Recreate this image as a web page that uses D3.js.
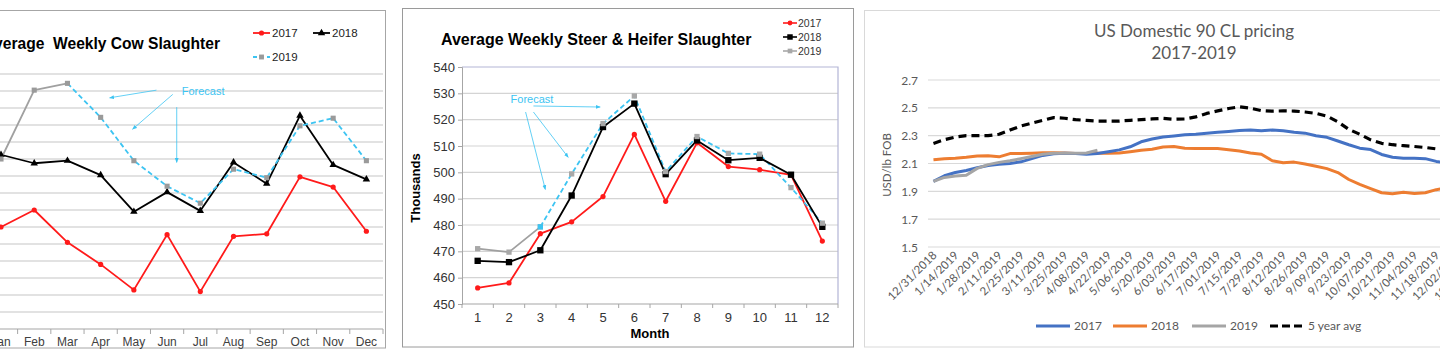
<!DOCTYPE html>
<html>
<head>
<meta charset="utf-8">
<script src="https://cdn.jsdelivr.net/npm/d3@7/dist/d3.min.js"></script>
<style>
  body { margin: 0; background: #fff; }
  svg { display: block; }
</style>
</head>
<body>
<div id="chart"></div>
<script>
// ---------- data ----------
const monthNames = ['Jan', 'Feb', 'Mar', 'Apr', 'May', 'Jun', 'Jul', 'Aug', 'Sep', 'Oct', 'Nov', 'Dec'];
const monthNums = [1, 2, 3, 4, 5, 6, 7, 8, 9, 10, 11, 12];

// Average weekly cow slaughter (thousand head)
const cow2017 = [62.0, 64.0, 60.2, 57.6, 54.6, 61.1, 54.4, 60.9, 61.2, 67.9, 66.7, 61.5];
const cow2018 = [70.5, 69.5, 69.8, 68.1, 63.8, 66.1, 63.9, 69.6, 67.1, 75.1, 69.3, 67.6];
const cow2019 = [70.0, 78.1, 78.9, null, null, null, null, null, null, null, null, null];
const cow2019Forecast = [null, null, 78.9, 74.9, 69.8, 66.8, 64.8, 68.8, 67.8, 73.9, 74.8, 69.8];

// Average weekly steer & heifer slaughter (thousands)
const steer2017 = [456.1, 458.0, 476.7, 481.2, 490.8, 514.4, 489.0, 511.2, 502.2, 501.0, 499.0, 473.9];
const steer2018 = [466.4, 465.9, 470.4, 491.2, 517.2, 526.1, 499.3, 512.1, 504.6, 505.5, 499.1, 479.3];
const steer2019 = [471.0, 469.7, 479.3, null, null, null, null, null, null, null, null, null];
const steer2019Forecast = [null, null, 479.3, 499.4, 518.5, 529.0, 500.3, 513.6, 507.2, 506.9, 494.2, 480.7];
const steerTicks = [450, 460, 470, 480, 490, 500, 510, 520, 530, 540];

// US domestic 90 CL pricing, weekly (USD/lb FOB)
const weeks = ['12/31/2018', '1/07/2019', '1/14/2019', '1/21/2019', '1/28/2019', '2/04/2019', '2/11/2019',
  '2/18/2019', '2/25/2019', '3/04/2019', '3/11/2019', '3/18/2019', '3/25/2019', '4/01/2019', '4/08/2019',
  '4/15/2019', '4/22/2019', '4/29/2019', '5/06/2019', '5/13/2019', '5/20/2019', '5/27/2019', '6/03/2019',
  '6/10/2019', '6/17/2019', '6/24/2019', '7/01/2019', '7/08/2019', '7/15/2019', '7/22/2019', '7/29/2019',
  '8/05/2019', '8/12/2019', '8/19/2019', '8/26/2019', '9/02/2019', '9/09/2019', '9/16/2019', '9/23/2019',
  '9/30/2019', '10/07/2019', '10/14/2019', '10/21/2019', '10/28/2019', '11/04/2019', '11/11/2019',
  '11/18/2019', '11/25/2019', '12/02/2019', '12/09/2019', '12/16/2019', '12/23/2019', '12/30/2019'];
const price2017 = [1.971, 2.012, 2.035, 2.050, 2.070, 2.085, 2.095, 2.100, 2.112, 2.135, 2.158, 2.170,
  2.173, 2.172, 2.167, 2.172, 2.185, 2.198, 2.220, 2.256, 2.276, 2.290, 2.298, 2.306, 2.310, 2.318, 2.324,
  2.330, 2.337, 2.340, 2.336, 2.340, 2.335, 2.325, 2.318, 2.300, 2.288, 2.262, 2.235, 2.210, 2.200, 2.165,
  2.145, 2.137, 2.137, 2.135, 2.115, 2.105];
const price2018 = [2.127, 2.134, 2.138, 2.145, 2.154, 2.155, 2.148, 2.171, 2.171, 2.174, 2.177, 2.178,
  2.176, 2.172, 2.172, 2.173, 2.174, 2.176, 2.185, 2.195, 2.202, 2.218, 2.222, 2.210, 2.207, 2.207, 2.207,
  2.198, 2.190, 2.175, 2.166, 2.120, 2.105, 2.110, 2.097, 2.080, 2.063, 2.035, 1.985, 1.950, 1.920, 1.890,
  1.882, 1.893, 1.884, 1.890, 1.912, 1.925];
const price2019 = [1.971, 2.000, 2.010, 2.015, 2.065, 2.092, 2.108, 2.120, 2.135, 2.150, 2.166, 2.173,
  2.173, 2.173, 2.176, 2.195];
const price5yr = [2.244, 2.271, 2.290, 2.300, 2.300, 2.300, 2.310, 2.340, 2.370, 2.390, 2.410, 2.430,
  2.425, 2.415, 2.410, 2.405, 2.405, 2.405, 2.410, 2.415, 2.420, 2.424, 2.418, 2.420, 2.435, 2.460, 2.478,
  2.495, 2.507, 2.497, 2.480, 2.476, 2.478, 2.477, 2.470, 2.460, 2.440, 2.400, 2.345, 2.310, 2.270, 2.245,
  2.235, 2.228, 2.222, 2.215, 2.205, 2.200];
const priceTicks = [1.5, 1.7, 1.9, 2.1, 2.3, 2.5, 2.7];

// ---------- page ----------
const W = 1440, H = 362;
const svg = d3.select('#chart').append('svg')
    .attr('width', W)
    .attr('height', H);

const arial = '"Liberation Sans", Arial, sans-serif';
const calibri = 'Lato, "Open Sans", sans-serif';
const fcstBlue = '#3cc4f2';

svg.append('defs').append('marker')
    .attr('id', 'arrow')
    .attr('viewBox', '0 0 10 10')
    .attr('refX', 9).attr('refY', 5)
    .attr('markerWidth', 6).attr('markerHeight', 6)
    .attr('orient', 'auto')
  .append('path')
    .attr('d', 'M0,1L10,5L0,9z')
    .attr('fill', fcstBlue);

function drawMarkers(g, values, x, y, kind, fill, size) {
  const pts = values.map((v, i) => [i, v]).filter(d => d[1] != null);
  if (kind === 'circle') {
    g.selectAll(null).data(pts).enter().append('circle')
        .attr('cx', d => x(d[0])).attr('cy', d => y(d[1]))
        .attr('r', size).attr('fill', fill);
  } else {
    const sym = kind === 'triangle' ? d3.symbolTriangle : d3.symbolSquare;
    g.selectAll(null).data(pts).enter().append('path')
        .attr('transform', d => `translate(${x(d[0])},${y(d[1])})`)
        .attr('d', d3.symbol(sym, size))
        .attr('fill', fill);
  }
}

function drawLine(g, values, x, y, colour, width, dash) {
  const line = d3.line()
      .defined(d => d != null)
      .x((d, i) => x(i))
      .y(d => y(d));
  g.append('path')
      .datum(values)
      .attr('d', line)
      .attr('fill', 'none')
      .attr('stroke', colour)
      .attr('stroke-width', width)
      .attr('stroke-dasharray', dash || null)
      .attr('stroke-linejoin', 'round');
}

// ================= Panel 1: cow slaughter =================
{
  const g = svg.append('g');
  g.append('rect')
      .attr('x', -5).attr('y', 10.5).attr('width', 390.5).attr('height', 337.5)
      .attr('fill', '#fff').attr('stroke', '#a6a6a6');

  const x = d3.scaleLinear().domain([-0.5, 11.5]).range([-15.6, 383]);
  const y = d3.scaleLinear().domain([50, 80]).range([329, 74]);

  g.append('g')
    .selectAll('line')
    .data(d3.range(52, 81, 2))
    .enter().append('line')
      .attr('x1', x(-0.5)).attr('x2', x(11.5))
      .attr('y1', d => y(d)).attr('y2', d => y(d))
      .attr('stroke', '#d9d9d9').attr('stroke-width', 1.5);

  const xAxis = g.append('g')
      .attr('transform', `translate(0,${y(50)})`);
  xAxis.append('line')
      .attr('x1', x(-0.5)).attr('x2', x(11.5))
      .attr('stroke', '#a6a6a6').attr('stroke-width', 1.2);
  xAxis.selectAll('.tk').data(d3.range(-0.5, 12, 1)).enter().append('line')
      .attr('x1', d => x(d)).attr('x2', d => x(d))
      .attr('y1', 0).attr('y2', 5)
      .attr('stroke', '#a6a6a6');
  xAxis.selectAll('text').data(monthNames).enter().append('text')
      .attr('x', (d, i) => x(i)).attr('y', 17)
      .attr('text-anchor', 'middle')
      .style('font', `12px ${arial}`)
      .attr('fill', '#404040')
      .text(d => d);

  drawLine(g, cow2017, x, y, '#ff1a1a', 1.8);
  drawLine(g, cow2018, x, y, '#000', 1.8);
  drawLine(g, cow2019, x, y, '#a0a0a0', 1.8);
  drawLine(g, cow2019Forecast, x, y, fcstBlue, 1.8, '5,3');
  drawMarkers(g, cow2017, x, y, 'circle', '#ff1a1a', 2.6);
  drawMarkers(g, cow2018, x, y, 'triangle', '#000', 24);
  drawMarkers(g, cow2019.map((v, i) => v != null ? v : cow2019Forecast[i]), x, y, 'square', '#9a9a9a', 26);

  g.append('text')
      .attr('x', 220).attr('y', 49)
      .attr('text-anchor', 'end')
      .style('font', `bold 15.6px ${arial}`)
      .attr('fill', '#000')
      .attr('xml:space', 'preserve')
      .text('Average  Weekly Cow Slaughter');

  // annotation
  g.append('text')
      .attr('x', x(5.44)).attr('y', y(77.5))
      .style('font', `11px ${arial}`)
      .attr('fill', fcstBlue)
      .text('Forecast');
  [[4.68, 78.1, 3.27, 77.2], [5.17, 77.6, 3.96, 73.5], [5.29, 76.1, 5.29, 69.6]].forEach(a => {
    g.append('line')
        .attr('x1', x(a[0])).attr('y1', y(a[1]))
        .attr('x2', x(a[2])).attr('y2', y(a[3]))
        .attr('stroke', fcstBlue).attr('stroke-width', 0.8)
        .attr('marker-end', 'url(#arrow)');
  });

  // legend
  const leg = [
    {label: '2017', colour: '#ff1a1a', kind: 'circle', x: 253, y: 33},
    {label: '2018', colour: '#000', kind: 'triangle', x: 313, y: 33},
    {label: '2019', colour: fcstBlue, kind: 'square', x: 253, y: 57, dash: '4,3'}
  ];
  leg.forEach(l => {
    g.append('line')
        .attr('x1', l.x).attr('x2', l.x + 17)
        .attr('y1', l.y).attr('y2', l.y)
        .attr('stroke', l.colour).attr('stroke-width', 1.8)
        .attr('stroke-dasharray', l.dash || null);
    const mk = l.kind === 'circle'
      ? g.append('circle').attr('r', 2.6).attr('fill', l.colour)
      : g.append('path').attr('d', d3.symbol(l.kind === 'triangle' ? d3.symbolTriangle : d3.symbolSquare, 24))
          .attr('fill', l.kind === 'square' ? '#9a9a9a' : l.colour);
    mk.attr('transform', `translate(${l.x + 8.5},${l.y})`);
    g.append('text')
        .attr('x', l.x + 19).attr('y', l.y + 4)
        .style('font', `11.5px ${arial}`)
        .attr('fill', '#222')
        .text(l.label);
  });
}

// ================= Panel 2: steer & heifer =================
{
  const g = svg.append('g');
  g.append('rect')
      .attr('x', 402.5).attr('y', 8.5).attr('width', 451).attr('height', 338.5)
      .attr('fill', '#fff').attr('stroke', '#9a9a9a');

  const x = d3.scaleLinear().domain([-0.5, 11.5]).range([462, 838]);
  const y = d3.scaleLinear().domain([450, 540]).range([304, 67]);

  g.append('g')
    .selectAll('line')
    .data(steerTicks.slice(1, -1))
    .enter().append('line')
      .attr('x1', x(-0.5)).attr('x2', x(11.5))
      .attr('y1', d => y(d)).attr('y2', d => y(d))
      .attr('stroke', '#d4d4d4').attr('stroke-width', 1.2);

  // plot frame: top and right in blue grey
  g.append('path')
      .attr('d', `M${x(-0.5)},${y(540)}H${x(11.5)}V${y(450)}`)
      .attr('fill', 'none').attr('stroke', '#b3b5d6').attr('stroke-width', 1.2);

  const yAxis = g.append('g')
      .attr('transform', `translate(${x(-0.5)},0)`)
      .call(d3.axisLeft(y).tickValues(steerTicks).tickSize(4).tickPadding(3));
  yAxis.select('.domain').attr('stroke', '#a6a6a6');
  yAxis.selectAll('.tick line').attr('stroke', '#a6a6a6');
  yAxis.selectAll('text').style('font', `13px ${arial}`).attr('fill', '#333');

  const xAxis = g.append('g')
      .attr('transform', `translate(0,${y(450)})`);
  xAxis.append('line')
      .attr('x1', x(-0.5)).attr('x2', x(11.5))
      .attr('stroke', '#a6a6a6').attr('stroke-width', 1.2);
  xAxis.selectAll('.tk').data(d3.range(-0.5, 12, 1)).enter().append('line')
      .attr('x1', d => x(d)).attr('x2', d => x(d))
      .attr('y1', 0).attr('y2', 4)
      .attr('stroke', '#a6a6a6');
  xAxis.selectAll('text').data(monthNums).enter().append('text')
      .attr('x', (d, i) => x(i)).attr('y', 18)
      .attr('text-anchor', 'middle')
      .style('font', `13px ${arial}`)
      .attr('fill', '#333')
      .text(d => d);

  g.append('text')
      .attr('x', x(5.5)).attr('y', 338)
      .attr('text-anchor', 'middle')
      .style('font', `bold 13px ${arial}`)
      .text('Month');
  g.append('text')
      .attr('transform', 'translate(420,188) rotate(-90)')
      .attr('text-anchor', 'middle')
      .style('font', `bold 13px ${arial}`)
      .text('Thousands');

  drawLine(g, steer2017, x, y, '#ff1a1a', 1.8);
  drawLine(g, steer2019, x, y, '#a0a0a0', 1.8);
  drawLine(g, steer2019Forecast, x, y, fcstBlue, 1.8, '5,3');
  drawLine(g, steer2018, x, y, '#000', 1.8);
  drawMarkers(g, steer2017, x, y, 'circle', '#ff1a1a', 2.6);
  drawMarkers(g, steer2018, x, y, 'square', '#000', 40);
  drawMarkers(g, steer2019.map((v, i) => v != null ? v : steer2019Forecast[i]), x, y, 'square', '#a8a8a8', 28);
  drawMarkers(g, steer2019.map((v, i) => i === 2 ? v : null), x, y, 'square', fcstBlue, 28);

  g.append('text')
      .attr('x', 441).attr('y', 45)
      .style('font', `bold 16px ${arial}`)
      .text('Average Weekly Steer & Heifer Slaughter');

  g.append('text')
      .attr('x', x(1.05)).attr('y', y(526.3))
      .style('font', `11px ${arial}`)
      .attr('fill', fcstBlue)
      .text('Forecast');
  [[1.78, 525.2, 3.91, 524.8], [1.78, 522.9, 2.89, 505.7], [1.53, 522.9, 2.16, 493.5]].forEach(a => {
    g.append('line')
        .attr('x1', x(a[0])).attr('y1', y(a[1]))
        .attr('x2', x(a[2])).attr('y2', y(a[3]))
        .attr('stroke', fcstBlue).attr('stroke-width', 0.8)
        .attr('marker-end', 'url(#arrow)');
  });

  const leg = [
    {label: '2017', colour: '#ff1a1a', kind: 'circle', y: 23},
    {label: '2018', colour: '#000', kind: 'square', y: 37},
    {label: '2019', colour: '#a8a8a8', kind: 'square', y: 51}
  ];
  leg.forEach(l => {
    g.append('line')
        .attr('x1', 783).attr('x2', 797)
        .attr('y1', l.y).attr('y2', l.y)
        .attr('stroke', l.colour).attr('stroke-width', 1.6);
    const mk = l.kind === 'circle'
      ? g.append('circle').attr('r', 2.4).attr('fill', l.colour)
      : g.append('path').attr('d', d3.symbol(d3.symbolSquare, l.label === '2018' ? 30 : 22)).attr('fill', l.colour);
    mk.attr('transform', `translate(790,${l.y})`);
    g.append('text')
        .attr('x', 798).attr('y', l.y + 4)
        .style('font', `10.5px ${arial}`)
        .attr('fill', '#333')
        .text(l.label);
  });
}

// ================= Panel 3: 90 CL pricing =================
{
  const g = svg.append('g');
  g.append('rect')
      .attr('x', 864.5).attr('y', 10.5).attr('width', 600).attr('height', 336.5)
      .attr('fill', '#fff').attr('stroke', '#d9d9d9');

  const xb = d3.scaleBand().domain(weeks).range([928, 928 + weeks.length * 10.93]);
  const x = i => xb(weeks[i]) + xb.bandwidth() / 2;
  const y = d3.scaleLinear().domain([1.5, 2.7]).range([247, 80]);

  g.append('g')
    .selectAll('line')
    .data(priceTicks)
    .enter().append('line')
      .attr('x1', 928).attr('x2', W)
      .attr('y1', d => y(d)).attr('y2', d => y(d))
      .attr('stroke', '#d9d9d9').attr('stroke-width', 1.2);

  g.selectAll('.ylab').data(priceTicks).enter().append('text')
      .attr('x', 918).attr('y', d => y(d) + 4.5)
      .attr('text-anchor', 'end')
      .style('font', `12px ${calibri}`)
      .attr('fill', '#595959')
      .text(d => d.toFixed(1));

  g.append('text')
      .attr('transform', 'translate(891,165) rotate(-90)')
      .attr('text-anchor', 'middle')
      .style('font', `11.5px ${calibri}`)
      .attr('fill', '#595959')
      .text('USD/lb FOB');

  g.selectAll('.xlab').data(weeks.filter((d, i) => i % 2 === 0)).enter().append('text')
      .attr('transform', d => `translate(${xb(d) + xb.bandwidth() / 2 + 4},256) rotate(-45)`)
      .attr('text-anchor', 'end')
      .style('font', `11.5px ${calibri}`)
      .attr('fill', '#595959')
      .text(d => d);

  drawLine(g, price2018, x, y, '#ed7d31', 3);
  drawLine(g, price2017, x, y, '#4472c4', 3);
  drawLine(g, price2019, x, y, '#a5a5a5', 3);
  drawLine(g, price5yr, x, y, '#000', 3.2, '8,5');

  g.append('text')
      .attr('x', 1194).attr('y', 37)
      .attr('text-anchor', 'middle')
      .style('font', `17px ${calibri}`)
      .attr('fill', '#595959')
      .text('US Domestic 90 CL pricing');
  g.append('text')
      .attr('x', 1194).attr('y', 59)
      .attr('text-anchor', 'middle')
      .style('font', `17px ${calibri}`)
      .attr('fill', '#595959')
      .text('2017-2019');

  const leg = [
    {label: '2017', colour: '#4472c4', x: 1036},
    {label: '2018', colour: '#ed7d31', x: 1113},
    {label: '2019', colour: '#a5a5a5', x: 1192},
    {label: '5 year avg', colour: '#000', x: 1270, dash: '8,4'}
  ];
  leg.forEach(l => {
    g.append('line')
        .attr('x1', l.x).attr('x2', l.x + 34)
        .attr('y1', 326).attr('y2', 326)
        .attr('stroke', l.colour).attr('stroke-width', 3)
        .attr('stroke-dasharray', l.dash || null);
    g.append('text')
        .attr('x', l.x + 38).attr('y', 330)
        .style('font', `12px ${calibri}`)
        .attr('fill', '#595959')
        .text(l.label);
  });
}
</script>
</body>
</html>
